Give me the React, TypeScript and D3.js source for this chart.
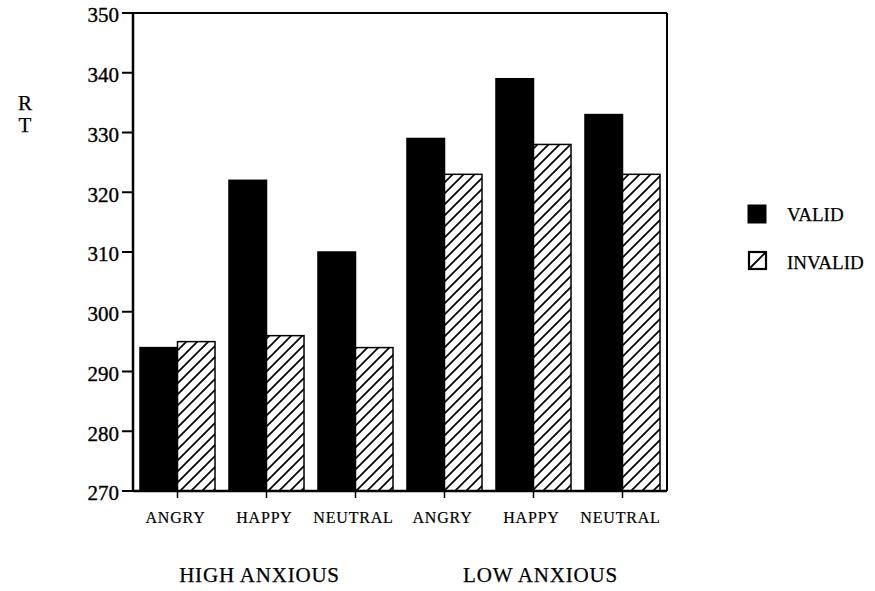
import React from "react";
import * as d3 from "d3";

const groups = ["HIGH ANXIOUS", "LOW ANXIOUS"];
const emotions = ["ANGRY", "HAPPY", "NEUTRAL"];
const seriesNames = ["VALID", "INVALID"];
const validValues = [294, 322, 310, 329, 339, 333];
const invalidValues = [295, 296, 294, 323, 328, 323];
const yTicks = [270, 280, 290, 300, 310, 320, 330, 340, 350];

const W = 875;
const H = 591;
const left = 133;
const right = 667;
const top = 13;
const bottom = 491;

export default function App() {
  const cats = groups.flatMap((g, gi) => emotions.map((e) => `${gi}-${e}`));
  const x0 = d3.scaleBand<string>().domain(cats).range([left, right]).paddingInner(0.157).paddingOuter(0.0785);
  const x1 = d3.scaleBand<string>().domain(seriesNames).range([0, x0.bandwidth()]).padding(0);
  const y = d3.scaleLinear().domain([270, 350]).range([bottom, top]);
  const font = "'Liberation Serif', 'Times New Roman', serif";
  const series = [validValues, invalidValues];
  const heavy = { stroke: "#000", strokeWidth: 0.35 };

  return (
    <svg width={W} height={H} style={{ position: "absolute", left: 0, top: 0, background: "#fff" }} fontFamily={font}>
      <defs>
        <pattern id="hatch" patternUnits="userSpaceOnUse" width="11" height="11">
          <rect width="11" height="11" fill="#fff" />
          <path d="M-1,12 L12,-1 M-3,3 L3,-3 M8,14 L14,8" stroke="#000" strokeWidth="1.7" />
        </pattern>
      </defs>
      {cats.map((c, i) =>
        series.map((vals, si) => {
          const bx = (x0(c) as number) + (x1(seriesNames[si]) as number);
          const by = y(vals[i]);
          return (
            <rect
              key={c + si}
              x={bx}
              y={by}
              width={x1.bandwidth()}
              height={bottom - by}
              fill={si === 0 ? "#000" : "url(#hatch)"}
              stroke="#000"
              strokeWidth={1.5}
            />
          );
        })
      )}
      <line x1={left} x2={right} y1={top} y2={top} stroke="#000" strokeWidth={2} />
      <line x1={right} x2={right} y1={top} y2={bottom} stroke="#000" strokeWidth={2} />
      <line x1={left} x2={left} y1={top} y2={bottom} stroke="#000" strokeWidth={2.5} />
      <line x1={left} x2={right} y1={bottom} y2={bottom} stroke="#000" strokeWidth={2.5} />
      {yTicks.map((t) => (
        <g key={t}>
          <line x1={left - 11} x2={left} y1={y(t)} y2={y(t)} stroke="#000" strokeWidth={2} />
          <text x={left - 14} y={y(t)} dy="0.45em" textAnchor="end" fontSize={21} {...heavy}>
            {t}
          </text>
        </g>
      ))}
      {cats.map((c, i) => {
        const cx = (x0(c) as number) + x0.bandwidth() / 2;
        return (
          <g key={c}>
            <line x1={cx} x2={cx} y1={bottom} y2={bottom + 7} stroke="#000" strokeWidth={1.5} />
            <text x={cx - 2} y={523} textAnchor="middle" fontSize={16} letterSpacing={0.8} {...heavy} strokeWidth={0.2}>
              {emotions[i % 3]}
            </text>
          </g>
        );
      })}
      {groups.map((g, gi) => {
        const a = x0(cats[gi * 3]) as number;
        const b = (x0(cats[gi * 3 + 2]) as number) + x0.bandwidth();
        return (
          <text key={g} x={(a + b) / 2 + (gi === 0 ? -7 : 7)} y={582} textAnchor="middle" fontSize={21} letterSpacing={0.8} {...heavy} strokeWidth={0.25}>
            {g}
          </text>
        );
      })}
      <text x={25} y={110} textAnchor="middle" fontSize={21} {...heavy} strokeWidth={0.25}>R</text>
      <text x={25} y={132} textAnchor="middle" fontSize={21} {...heavy} strokeWidth={0.25}>T</text>
      <rect x={748} y={205} width={18} height={18} fill="#000" stroke="#000" strokeWidth={1} />
      <text x={787} y={221} fontSize={19} {...heavy} strokeWidth={0.25}>VALID</text>
      <rect x={749} y={252} width={17} height={17} fill="#fff" stroke="#000" strokeWidth={2.2} />
      <line x1={750} y1={268} x2={765} y2={253} stroke="#000" strokeWidth={1.8} />
      <text x={787} y={269} fontSize={19} {...heavy} strokeWidth={0.25}>INVALID</text>
    </svg>
  );
}
